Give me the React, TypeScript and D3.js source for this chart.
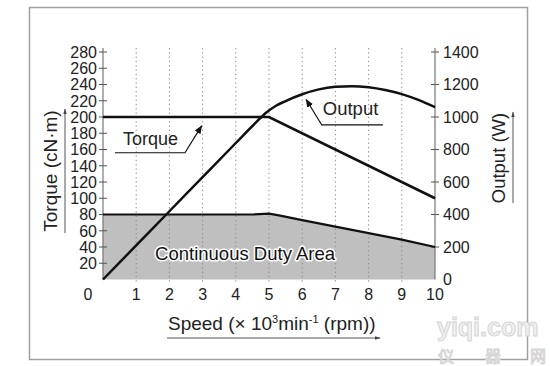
import React from "react";
import * as d3 from "d3";

const speedTicks = [0, 1, 2, 3, 4, 5, 6, 7, 8, 9, 10];
const torqueTicks = [0, 20, 40, 60, 80, 100, 120, 140, 160, 180, 200, 220, 240, 260, 280];
const outputTicks = [0, 200, 400, 600, 800, 1000, 1200, 1400];

// torque (cN·m) vs speed (x10^3 rpm)
const torqueCurve: [number, number][] = [[0, 200], [5, 200], [10, 100]];
const continuousCurve: [number, number][] = [
  [0, 80], [4.5, 80], [5, 81], [5.3, 79], [6, 73], [7, 65], [8, 57], [9, 49], [10, 40],
];
// output (W) vs speed
const outputCurve: [number, number][] = [
  [0, 0], [1, 210], [2, 420], [3, 630], [4, 840], [4.6, 965], [4.9, 1025], [5.2, 1068],
  [5.5, 1098], [6, 1140], [6.5, 1170], [7, 1186], [7.5, 1190], [8, 1183], [8.5, 1166],
  [9, 1141], [9.5, 1105], [10, 1060],
];

const FONT = "'Liberation Sans', Arial, Helvetica, sans-serif";

export default function App() {
  const x = d3.scaleLinear().domain([0, 10]).range([103, 435]);
  const yT = d3.scaleLinear().domain([0, 280]).range([279.5, 52]);
  const yP = d3.scaleLinear().domain([0, 1400]).range([279.5, 52]);
  const top = 48;

  const torqueLine = d3.line<[number, number]>().x(d => x(d[0])).y(d => yT(d[1]));
  const contArea = d3.area<[number, number]>().x(d => x(d[0])).y0(yT(0)).y1(d => yT(d[1]));
  const outLine = d3.line<[number, number]>().x(d => x(d[0])).y(d => yP(d[1])).curve(d3.curveMonotoneX);

  return (
    <svg width={550} height={366} style={{ position: "absolute", left: 0, top: 0, background: "#fff" }}
      fontFamily={FONT}>
      <defs>
        <marker id="ah" viewBox="0 0 10 10" refX="9" refY="5" markerWidth="7" markerHeight="7" orient="auto">
          <path d="M0,1 L10,5 L0,9 Z" fill="#111" />
        </marker>
        <marker id="ahg" viewBox="0 0 10 10" refX="9" refY="5" markerWidth="6" markerHeight="6" orient="auto">
          <path d="M0,2 L10,5 L0,8 Z" fill="#444" />
        </marker>
      </defs>
      <rect x={29.5} y={7.5} width={498} height={352} fill="#fff" stroke="#a0a0a0" strokeWidth={1.5} />

      {/* continuous duty area */}
      <path d={contArea(continuousCurve)!} fill="#bfbfbf" />

      {/* grid */}
      {speedTicks.slice(1, 10).map(s => (
        <line key={s} x1={x(s)} x2={x(s)} y1={top} y2={yT(0) + 2} stroke="#8a8a8a"
          strokeWidth={1} strokeDasharray="1.3,3" />
      ))}

      {/* axes */}
      <line x1={x(0)} x2={x(0)} y1={top} y2={yT(0)} stroke="#777" strokeWidth={1.2} />
      <line x1={x(10)} x2={x(10)} y1={top} y2={yT(0)} stroke="#777" strokeWidth={1.2} />
      {torqueTicks.map(t => (
        <g key={t}>
          {t > 0 && <line x1={x(0) - 4} x2={x(0) + 4} y1={yT(t)} y2={yT(t)} stroke="#555" strokeWidth={1} />}
          {t > 0 && (
            <text x={x(0) - 6} y={yT(t)} dy="0.36em" textAnchor="end" fontSize={16} fill="#222">{t}</text>
          )}
        </g>
      ))}
      {outputTicks.map(t => (
        <g key={t}>
          {t > 0 && <line x1={x(10) - 4} x2={x(10) + 4} y1={yP(t)} y2={yP(t)} stroke="#555" strokeWidth={1} />}
          <text x={x(10) + 8} y={yP(t)} dy="0.36em" textAnchor="start" fontSize={16} fill="#222">{t}</text>
        </g>
      ))}
      {speedTicks.map(s => (
        <text key={s} x={s === 0 ? x(0) - 15 : x(s)} y={300} textAnchor="middle" fontSize={16} fill="#222">{s}</text>
      ))}

      {/* curves */}
      <path d={torqueLine(continuousCurve)!} fill="none" stroke="#111" strokeWidth={2.2} />
      <path d={torqueLine(torqueCurve)!} fill="none" stroke="#111" strokeWidth={2.6} />
      <path d={outLine(outputCurve)!} fill="none" stroke="#111" strokeWidth={2.5} />

      {/* annotations */}
      <text x={x(0.6)} y={yT(165)} fontSize={18} fill="#222">Torque</text>
      <polyline points={`${x(0.36)},${yT(156)} ${x(2.47)},${yT(156)} ${x(2.97)},${yT(189)}`}
        fill="none" stroke="#111" strokeWidth={1.2} markerEnd="url(#ah)" />
      <text x={x(6.62)} y={yP(1010)} fontSize={18.5} fill="#222">Output</text>
      <polyline points={`${x(8.43)},${yP(951)} ${x(6.59)},${yP(951)} ${x(6.12)},${yP(1108)}`}
        fill="none" stroke="#111" strokeWidth={1.2} markerEnd="url(#ah)" />
      <text x={x(1.57)} y={yT(24)} fontSize={18.5} fill="#111" stroke="#fff" strokeWidth={3}
        strokeLinejoin="round" style={{ paintOrder: "stroke" }}>Continuous Duty Area</text>

      {/* axis titles */}
      <text transform="translate(57,171) rotate(-90)" textAnchor="middle" fontSize={19} fill="#222">Torque (cN·m)</text>
      <line x1={65} x2={65} y1={233} y2={109} stroke="#555" strokeWidth={1} markerEnd="url(#ahg)" />
      <text transform="translate(505,158) rotate(-90)" textAnchor="middle" fontSize={18.5} fill="#222">Output (W)</text>
      <line x1={513} x2={513} y1={203} y2={112} stroke="#555" strokeWidth={1} markerEnd="url(#ahg)" />
      <text x={168} y={330} fontSize={19} fill="#222">
        Speed (× 10<tspan dy={-7} fontSize={11}>3</tspan><tspan dy={7}>min</tspan>
        <tspan dy={-7} fontSize={11}>-1</tspan><tspan dy={7}> (rpm))</tspan>
      </text>
      <line x1={167} x2={380} y1={338} y2={338} stroke="#555" strokeWidth={1} markerEnd="url(#ahg)" />

      {/* watermark */}
      <text x={437} y={336} fontSize={25} fontWeight="bold" fill="#f0f0f0" stroke="#d6d6d6" strokeWidth={1}>yiqi.com</text>
      <text x={438} y={362} fontSize={16} fill="#f0f0f0" stroke="#d6d6d6" strokeWidth={1}
        fontFamily="'Noto Sans CJK SC', sans-serif">仪</text>
      <text x={485} y={362} fontSize={16} fill="#f0f0f0" stroke="#d6d6d6" strokeWidth={1}
        fontFamily="'Noto Sans CJK SC', sans-serif">器</text>
      <text x={530} y={362} fontSize={16} fill="#f0f0f0" stroke="#d6d6d6" strokeWidth={1}
        fontFamily="'Noto Sans CJK SC', sans-serif">网</text>
    </svg>
  );
}
